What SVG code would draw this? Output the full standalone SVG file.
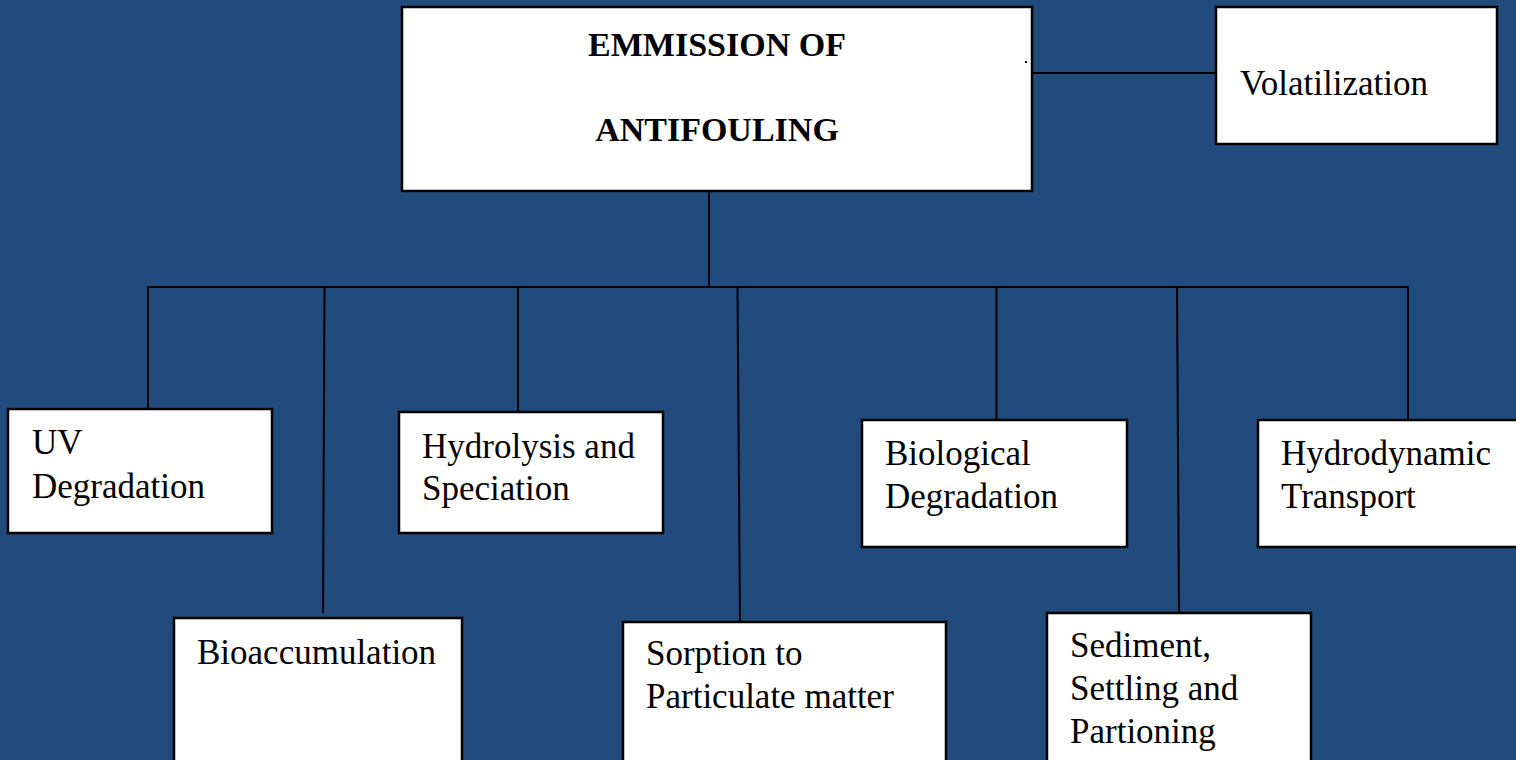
<svg xmlns="http://www.w3.org/2000/svg" width="1516" height="760" viewBox="0 0 1516 760">
<style>
.box{fill:#ffffff;stroke:#000000;stroke-width:2.5}
.lbl{font-family:"Liberation Serif","Times New Roman",serif;font-size:35px;fill:#000000}
.ttl{font-family:"Liberation Serif","Times New Roman",serif;font-size:34px;font-weight:bold;fill:#000000;text-anchor:middle}
.con{stroke:#000000;stroke-width:2;fill:none}
</style>
<rect x="0" y="0" width="1516" height="760" fill="#214A7D"/>
<g id="connectors">
<line class="con" x1="1032" y1="73" x2="1216" y2="73"/>
<line class="con" x1="709" y1="191" x2="709" y2="287"/>
<line class="con" x1="147" y1="287" x2="1409" y2="287"/>
<line class="con" x1="148" y1="287" x2="148" y2="409"/>
<line class="con" x1="324.5" y1="287" x2="323" y2="613"/>
<line class="con" x1="518" y1="287" x2="518" y2="412"/>
<line class="con" x1="737.5" y1="287" x2="740" y2="622"/>
<line class="con" x1="996.5" y1="287" x2="996.5" y2="420"/>
<line class="con" x1="1177" y1="287" x2="1179" y2="613"/>
<line class="con" x1="1408" y1="287" x2="1408" y2="420"/>
</g>
<g id="emission">
<rect class="box" x="402" y="7" width="630" height="184"/>
<text class="ttl" x="717" y="56">EMMISSION OF</text>
<text class="ttl" x="717" y="141">ANTIFOULING</text>
<rect x="1025" y="61" width="2" height="2" fill="#000000"/>
</g>
<g id="volatilization">
<rect class="box" x="1216" y="7" width="281" height="137"/>
<text class="lbl" x="1240" y="95">Volatilization</text>
</g>
<g id="uv">
<rect class="box" x="8" y="409" width="264" height="124"/>
<text class="lbl" x="32" y="454">UV</text>
<text class="lbl" x="32" y="498">Degradation</text>
</g>
<g id="hydrolysis">
<rect class="box" x="399" y="412" width="264" height="121"/>
<text class="lbl" x="422" y="458">Hydrolysis and</text>
<text class="lbl" x="422" y="500">Speciation</text>
</g>
<g id="biological">
<rect class="box" x="862" y="420" width="265" height="127"/>
<text class="lbl" x="885" y="465">Biological</text>
<text class="lbl" x="885" y="508">Degradation</text>
</g>
<g id="hydrodynamic">
<rect class="box" x="1258" y="420" width="270" height="127"/>
<text class="lbl" x="1281" y="465">Hydrodynamic</text>
<text class="lbl" x="1281" y="508">Transport</text>
</g>
<g id="bioaccumulation">
<rect class="box" x="174" y="618" width="288" height="160"/>
<text class="lbl" x="197" y="664">Bioaccumulation</text>
</g>
<g id="sorption">
<rect class="box" x="623" y="622" width="323" height="160"/>
<text class="lbl" x="646" y="665">Sorption to</text>
<text class="lbl" x="646" y="708">Particulate matter</text>
</g>
<g id="sediment">
<rect class="box" x="1047" y="613" width="264" height="170"/>
<text class="lbl" x="1070" y="657">Sediment,</text>
<text class="lbl" x="1070" y="700">Settling and</text>
<text class="lbl" x="1070" y="743">Partioning</text>
</g>
</svg>
